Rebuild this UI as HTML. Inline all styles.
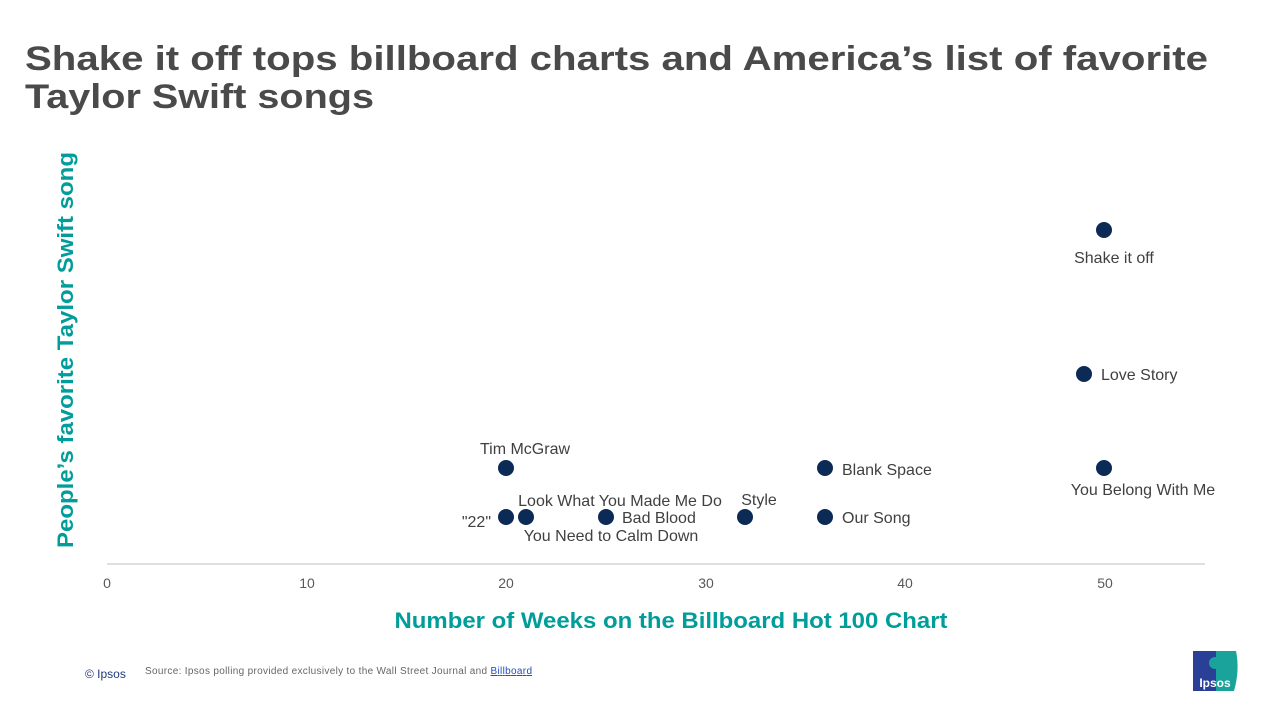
<!DOCTYPE html>
<html><head><meta charset="utf-8"><style>
body{margin:0;background:#fff;}
svg{display:block;font-family:"Liberation Sans",Arial,sans-serif;}
</style></head><body>
<svg width="1280" height="720" viewBox="0 0 1280 720">
<text x="25" y="70" font-size="34" font-weight="bold" fill="#4a4a4a" textLength="1183" lengthAdjust="spacingAndGlyphs">Shake it off tops billboard charts and America’s list of favorite</text>
<text x="25" y="108" font-size="34" font-weight="bold" fill="#4a4a4a" textLength="349" lengthAdjust="spacingAndGlyphs">Taylor Swift songs</text>
<text transform="translate(73,350) rotate(-90)" text-anchor="middle" font-size="22" font-weight="bold" fill="#009d9a" textLength="396" lengthAdjust="spacingAndGlyphs">People’s favorite Taylor Swift song</text>
<line x1="107" y1="564" x2="1205" y2="564" stroke="#bfbfbf" stroke-width="1"/>
<g font-size="14" fill="#595959" text-anchor="middle">
<text x="107" y="588">0</text><text x="307" y="588">10</text><text x="506" y="588">20</text><text x="706" y="588">30</text><text x="905" y="588">40</text><text x="1105" y="588">50</text>
</g>
<text x="671" y="628" text-anchor="middle" font-size="22" font-weight="bold" fill="#009d9a" textLength="553" lengthAdjust="spacingAndGlyphs">Number of Weeks on the Billboard Hot 100 Chart</text>
<g fill="#0b2a55">
<circle cx="1104" cy="230" r="8"/><circle cx="1084" cy="374" r="8"/><circle cx="1104" cy="468" r="8"/>
<circle cx="506" cy="468" r="8"/><circle cx="825" cy="468" r="8"/>
<circle cx="506" cy="517" r="8"/><circle cx="526" cy="517" r="8"/><circle cx="606" cy="517" r="8"/><circle cx="745" cy="517" r="8"/><circle cx="825" cy="517" r="8"/>
</g>
<g font-size="16" fill="#404040">
<text x="1114" y="263" text-anchor="middle">Shake it off</text>
<text x="1101" y="380">Love Story</text>
<text x="1143" y="495" text-anchor="middle">You Belong With Me</text>
<text x="525" y="454" text-anchor="middle">Tim McGraw</text>
<text x="842" y="475">Blank Space</text>
<text x="491" y="527" text-anchor="end">"22"</text>
<text x="620" y="506" text-anchor="middle">Look What You Made Me Do</text>
<text x="611" y="541" text-anchor="middle">You Need to Calm Down</text>
<text x="622" y="523">Bad Blood</text>
<text x="759" y="505" text-anchor="middle">Style</text>
<text x="842" y="523">Our Song</text>
</g>
<text x="85" y="678" font-size="12" fill="#1f3a7a">© Ipsos</text>
<text x="145" y="674" font-size="10" fill="#666" textLength="387" lengthAdjust="spacing">Source: Ipsos polling provided exclusively to the Wall Street Journal and <tspan fill="#1f4fbf" text-decoration="underline">Billboard</tspan></text>
<path d="M1193 651 H1216 V691 H1193 Z" fill="#2a3f96"/>
<path d="M1216 651 H1236 Q1240 670 1234 691 H1216 Z" fill="#1aa39b"/>
<circle cx="1215" cy="663" r="6" fill="#1aa39b"/>
<text x="1215" y="687" text-anchor="middle" font-size="12" font-weight="bold" fill="#fff">Ipsos</text>
</svg>
</body></html>
